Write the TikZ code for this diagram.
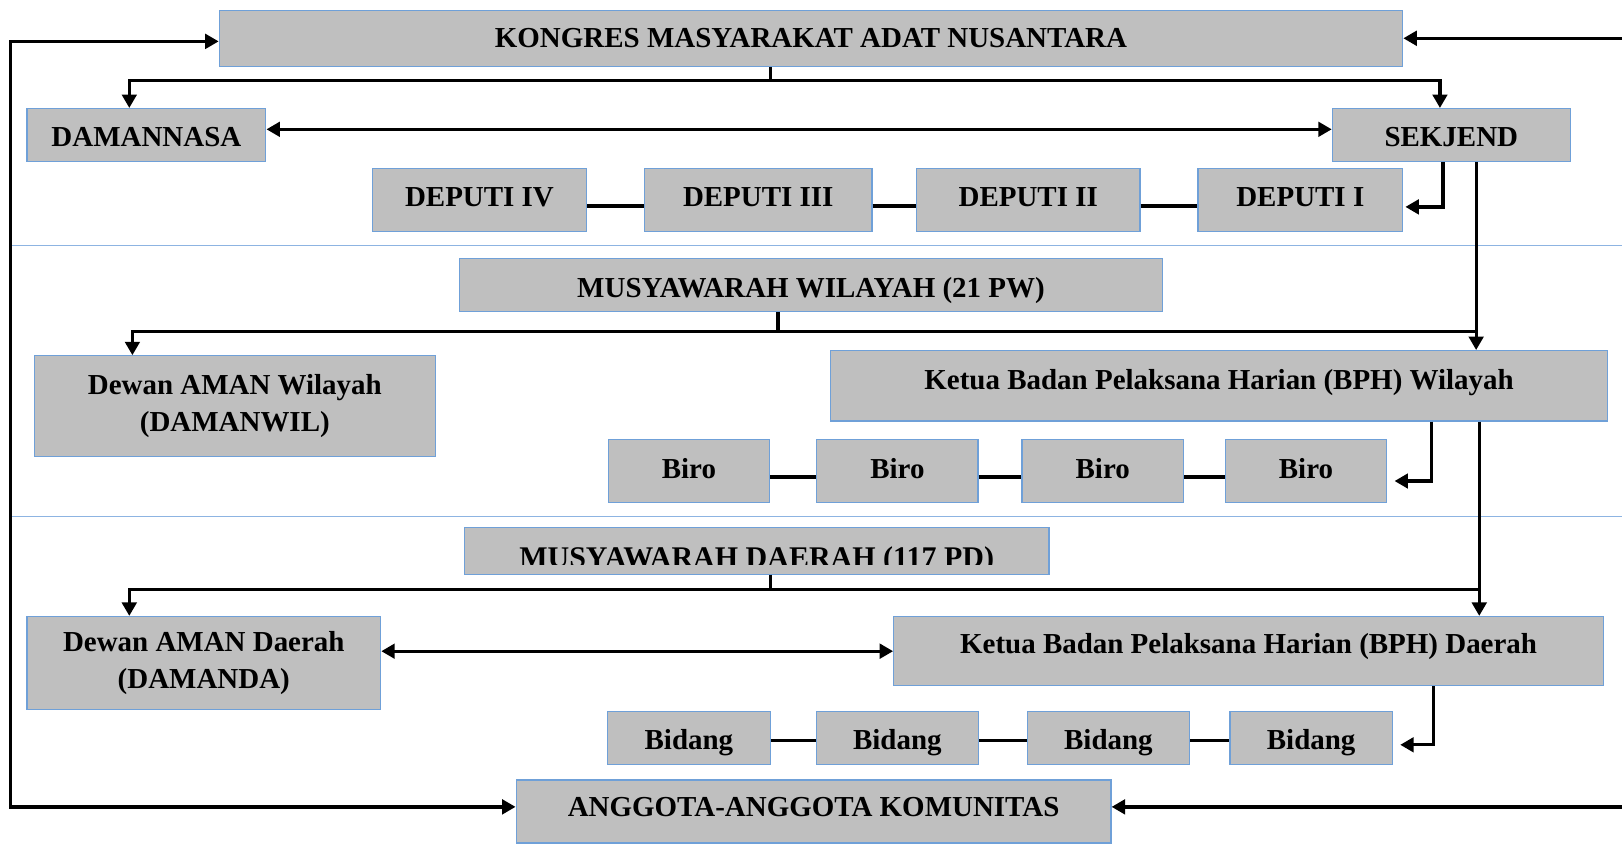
\documentclass[tikz,border=0pt]{standalone}
\usepackage{fontspec}
\setmainfont{Liberation Serif}
\usetikzlibrary{arrows.meta,calc}
\definecolor{frame}{HTML}{6FA0D8}
\definecolor{shade}{HTML}{BFBFBF}
\definecolor{rule}{HTML}{8DB4E2}
\tikzset{box/.style={draw=frame,fill=shade,line width=0.6pt,align=center,inner sep=2pt,font=\bfseries\fontsize{14}{18}\selectfont}, txt/.style={text height=#1pt,text depth=3.5pt},link/.style={line width=1.6pt,draw=black},arr/.style={link,-{Triangle[length=6.5pt,width=7pt]}},dbl/.style={link,{Triangle[length=6.5pt,width=7pt]}-{Triangle[length=6.5pt,width=7pt]}},sep/.style={draw=rule,line width=0.5pt}}

\begin{document}
\begin{tikzpicture}[x=0.5pt,y=-0.5pt]
\useasboundingbox (0,0) rectangle (1568,815);
\coordinate (lft) at (10,0);\coordinate (rgt) at (1568,0);
\draw[sep](10,237)--(1568,237);\draw[sep](10,499)--(1568,499);
% nasional
\node[box,txt=12.7,minimum width=572pt,minimum height=27pt](kongres) at (784,37){KONGRES MASYARAKAT ADAT NUSANTARA};
\node[box,txt=14.2,minimum width=115.5pt,minimum height=25.5pt](damnas) at (141.5,130.5){DAMANNASA};
\node[box,txt=14.2,minimum width=115pt,minimum height=25.5pt](sekjend) at (1403,130.5){SEKJEND};
\node[box,txt=9.2,minimum width=103.5pt,minimum height=30.5pt](dep4) at (463.5,193.5){DEPUTI IV};
\node[box,txt=9.2,minimum width=110pt,minimum height=30.5pt](dep3) at (733,193.5){DEPUTI III};
\node[box,txt=9.2,minimum width=108pt,minimum height=30.5pt](dep2) at (994,193.5){DEPUTI II};
\node[box,txt=9.2,minimum width=99pt,minimum height=30.5pt](dep1) at (1257,193.5){DEPUTI I};
% wilayah
\node[box,txt=15.2,minimum width=340pt,minimum height=25.5pt](muswil) at (784,275.5){MUSYAWARAH WILAYAH (21 PW)};
\node[box,minimum width=194pt,minimum height=48.5pt](dewanwil) at (227,392.5){Dewan AMAN Wilayah\\(DAMANWIL)};
\node[box,txt=6.7,minimum width=375.5pt,minimum height=34pt](ketuawil) at (1178.5,373){Ketua Badan Pelaksana Harian (BPH) Wilayah};
\foreach \i/\x in {1/666,2/867.5,3/1066,4/1262.5}{\node[box,txt=10.2,minimum width=78pt,minimum height=30.5pt](biro\i) at (\x,455.5){Biro};}
% daerah
\node[box,minimum width=282.5pt,minimum height=22.5pt](musda) at (731.5,532.5){};
\begin{scope}\clip (musda.north west) rectangle ([yshift=4.75pt]musda.south east);
\node[box,draw=none,fill=none,anchor=base,font=\bfseries\fontsize{14.5}{18}\selectfont](musdatxt) at ([yshift=-8.25pt]musda.center){MUSYAWARAH DAERAH (117 PD)};
\end{scope}
\node[box,minimum width=171pt,minimum height=45pt](dewandae) at (197,641){Dewan AMAN Daerah\\(DAMANDA)};
\node[box,txt=6.2,minimum width=343pt,minimum height=33.5pt](ketuadae) at (1207,629.5){Ketua Badan Pelaksana Harian (BPH) Daerah};
\foreach \i/\x in {1/666,2/867.5,3/1071.5,4/1267.5}{\node[box,txt=14.2,minimum width=78.5pt,minimum height=25.5pt](bidang\i) at (\x,713.5){Bidang};}
\node[box,txt=8.2,minimum width=287.5pt,minimum height=30.5pt](anggota) at (786.5,784.5){ANGGOTA-ANGGOTA KOMUNITAS};
% penghubung
\coordinate (kw) at ([yshift=-1.5pt]kongres.west);\coordinate (aw) at ([yshift=2.25pt]anggota.west);\coordinate (ae) at ([yshift=2.25pt]anggota.east);
\draw[dbl](kw)--(kw -| lft)--(aw -| lft)--(aw);
\draw[arr](kongres.east -| rgt)--(kongres.east);\draw[arr](ae -| rgt)--(ae);
\draw[link]([xshift=-19.5pt]kongres.south)--++(0,13)coordinate(kbar);
\draw[arr](kbar)-|([xshift=-8.25pt]damnas.north);\draw[arr](kbar)-|([xshift=-5.5pt]sekjend.north);
\draw[dbl]([yshift=2.75pt]damnas.east)--([yshift=2.75pt]sekjend.west);
\draw[arr]([xshift=-4pt]sekjend.south)|-([xshift=1pt,yshift=-3.25pt]dep1.east);
\foreach \a/\b in {dep4/dep3,dep3/dep2,dep2/dep1}{\draw[link]([yshift=-2.75pt]\a.east)--([yshift=-2.75pt]\b.west);}
\draw[arr]([xshift=12pt]sekjend.south)coordinate(s1)--(s1 |- ketuawil.north);
\draw[link]([xshift=-16pt]muswil.south)--++(0,19)coordinate(wbar);
\draw[arr](wbar)-|([xshift=-49.5pt]dewanwil.north);\draw[link](wbar)--(wbar -| s1);
\draw[arr]([xshift=102.75pt]ketuawil.south)|-([xshift=3.5pt,yshift=-4.75pt]biro4.east);
\foreach \a/\b in {1/2,2/3,3/4}{\draw[link]([yshift=-2.75pt]biro\a.east)--([yshift=-2.75pt]biro\b.west);}
\draw[arr]([xshift=125.75pt]ketuawil.south)coordinate(s2)--(s2 |- ketuadae.north);
\draw[link]([xshift=6.75pt]musda.south)--++(0,14)coordinate(dbar);
\draw[arr](dbar)-|([xshift=-36pt]dewandae.north);\draw[link](dbar)--(dbar -| s2);
\draw[dbl](dewandae.east |- ketuadae.west)--(ketuadae.west);
\draw[arr]([xshift=89.5pt]ketuadae.south)|-([xshift=3.5pt,yshift=-3.25pt]bidang4.east);
\foreach \a/\b in {1/2,2/3,3/4}{\draw[link]([yshift=-1.25pt]bidang\a.east)--([yshift=-1.25pt]bidang\b.west);}
\end{tikzpicture}
\end{document}
